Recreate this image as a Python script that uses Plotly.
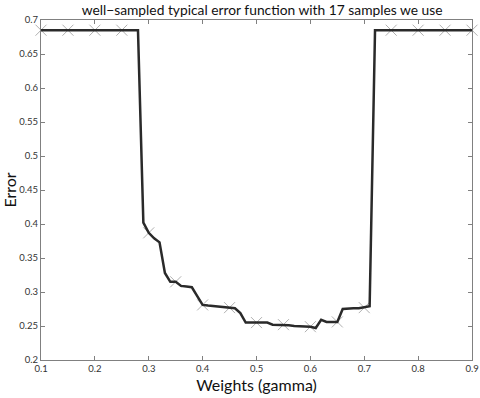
import numpy as np
import plotly.graph_objects as go

weights = [round(0.10 + 0.01 * i, 2) for i in range(81)]
error = (
    [0.685] * 19 +  # 0.10 .. 0.28
    [0.402, 0.387, 0.379, 0.373, 0.328, 0.315, 0.315, 0.309, 0.308, 0.307,   # 0.29..0.38
     0.294, 0.281, 0.280, 0.279, 0.278, 0.277, 0.277, 0.276, 0.269, 0.255,   # 0.39..0.48
     0.255, 0.255, 0.255, 0.255, 0.252, 0.252, 0.252, 0.251, 0.250, 0.250,   # 0.49..0.58
     0.250, 0.249, 0.247, 0.259, 0.256, 0.256, 0.256, 0.275, 0.276, 0.276,   # 0.59..0.68
     0.276, 0.277, 0.279] +                                                   # 0.69..0.71
    [0.685] * 19    # 0.72 .. 0.90
)
sample_w = [round(0.10 + 0.05 * i, 2) for i in range(17)]
sample_e = [error[weights.index(w)] for w in sample_w]

x_ticks = [0.1, 0.2, 0.3, 0.4, 0.5, 0.6, 0.7, 0.8, 0.9]
y_ticks = [0.2, 0.25, 0.3, 0.35, 0.4, 0.45, 0.5, 0.55, 0.6, 0.65, 0.7]

FONT = "Lato"

fig = go.Figure()
fig.add_trace(go.Scatter(
    x=sample_w, y=sample_e, mode="markers",
    marker=dict(symbol="x-thin-open", size=11, color="#b0b0b0",
                line=dict(width=1, color="#b0b0b0")),
    showlegend=False, cliponaxis=False,
))
fig.add_trace(go.Scatter(
    x=weights, y=error, mode="lines",
    line=dict(color="#2a2a2a", width=2.5),
    showlegend=False,
))

axis_common = dict(
    showline=True, linecolor="#808080", linewidth=1, mirror="ticks",
    ticks="inside", ticklen=4, tickcolor="#808080", tickwidth=1,
    showgrid=False, zeroline=False, automargin=False,
    tickfont=dict(family=FONT, size=9.5, color="#333333"),
)

fig.update_layout(
    width=480, height=398,
    margin=dict(l=41, r=8, t=20, b=38, autoexpand=False),
    paper_bgcolor="white", plot_bgcolor="white",
    title=dict(text="well−sampled typical error function with 17 samples we use",
               x=0.546, xref="container", xanchor="center",
               y=1 - 10 / 398, yref="container", yanchor="middle",
               font=dict(family=FONT, size=13.8, color="#111111")),
    xaxis=dict(range=[0.1, 0.9], tickvals=x_ticks,
               ticktext=[f"{v:g}" for v in x_ticks],
               title=dict(text="Weights (gamma)", standoff=6,
                          font=dict(family=FONT, size=16, color="#111111")),
               **axis_common),
    yaxis=dict(range=[0.2, 0.7], tickvals=y_ticks,
               ticktext=[f"{v:g}" for v in y_ticks],
               title=dict(text="Error", standoff=4,
                          font=dict(family=FONT, size=16, color="#111111")),
               **axis_common),
)

fig.write_html("out.html", config={"displayModeBar": False},
               post_script="document.body.style.margin='0';document.body.style.padding='0';")
